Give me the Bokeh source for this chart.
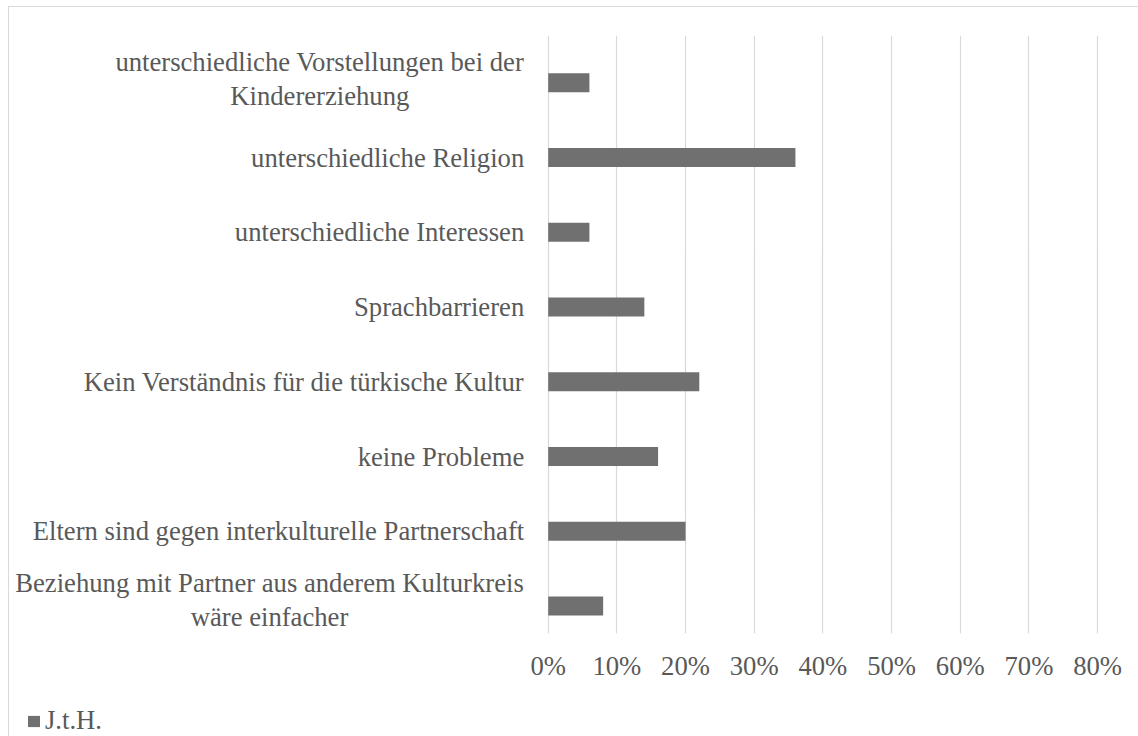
from bokeh.plotting import figure
from bokeh.layouts import column
from bokeh.models import (FactorRange, Range1d, NumeralTickFormatter, Legend,
                          LegendItem, ColumnDataSource, FixedTicker)
from bokeh.transform import dodge
from bokeh.core.properties import value
from bokeh.embed import file_html
from bokeh.resources import INLINE

# ---- data (top to bottom as in the chart) ----
categories = [
    "unterschiedliche Vorstellungen bei der Kindererziehung",
    "unterschiedliche Religion",
    "unterschiedliche Interessen",
    "Sprachbarrieren",
    "Kein Verständnis für die türkische Kultur",
    "keine Probleme",
    "Eltern sind gegen interkulturelle Partnerschaft",
    "Beziehung mit Partner aus anderem Kulturkreis wäre einfacher",
]
category_labels = [
    "unterschiedliche Vorstellungen bei der\nKindererziehung",
    "unterschiedliche Religion",
    "unterschiedliche Interessen",
    "Sprachbarrieren",
    "Kein Verständnis für die türkische Kultur",
    "keine Probleme",
    "Eltern sind gegen interkulturelle Partnerschaft",
    "Beziehung mit Partner aus anderem Kulturkreis\nwäre einfacher",
]
values = [0.06, 0.36, 0.06, 0.14, 0.22, 0.16, 0.20, 0.08]
series_name = "J.t.H."
x_ticks = [0.0, 0.1, 0.2, 0.3, 0.4, 0.5, 0.6, 0.7, 0.8]

FONT = "Liberation Serif"
FSIZE = "26.67px"
TXT = "#595959"
BAR = "#707070"
GRID = "#d9d9d9"

src = ColumnDataSource(dict(cat=categories, val=values, label=category_labels))

p = figure(width=1129, height=678,
           y_range=FactorRange(factors=categories[::-1], range_padding=0),
           x_range=Range1d(-0.7845, 0.8596),
           y_axis_location=None, x_axis_location="below",
           output_backend="svg", toolbar_location=None,
           min_border_left=0, min_border_right=0,
           min_border_top=28, min_border_bottom=52)
p.outline_line_color = None
p.background_fill_color = "white"
p.border_fill_color = "white"

bars = p.hbar(y=dodge("cat", -0.133, range=p.y_range), left=0, right="val",
              height=0.255, source=src, fill_color=BAR, line_color=None)

xa = p.xaxis[0]
xa.ticker = FixedTicker(ticks=x_ticks)
xa.formatter = NumeralTickFormatter(format="0%")
xa.axis_line_color = None
xa.major_tick_line_color = None
xa.minor_tick_line_color = None
xa.major_tick_out = 0
xa.major_tick_in = 0
xa.major_label_text_font = FONT
xa.major_label_text_font_size = FSIZE
xa.major_label_text_color = TXT
xa.major_label_standoff = 17

p.xgrid.grid_line_color = GRID
p.xgrid.grid_line_width = 1.2
p.ygrid.grid_line_color = None

# category labels
single = [i for i, l in enumerate(category_labels) if "\n" not in l]
multi = [i for i, l in enumerate(category_labels) if "\n" in l]
src_single = ColumnDataSource(dict(cat=[categories[i] for i in single],
                                   label=[category_labels[i] for i in single]))
p.text(x=0, y=dodge("cat", -0.133, range=p.y_range), text="label", source=src_single,
       text_align="right", text_baseline="middle", x_offset=-24,
       text_font=value(FONT), text_font_size=FSIZE, text_color=TXT)
multi_offsets = {0: -228.4, 7: -278.7}
multi_dodge = {0: -0.085, 7: -0.05}
for i in multi:
    s = ColumnDataSource(dict(cat=[categories[i]], label=[category_labels[i]]))
    p.text(x=0, y=dodge("cat", multi_dodge[i], range=p.y_range), text="label", source=s,
           text_align="center", text_baseline="middle", x_offset=multi_offsets[i],
           text_line_height=1.15,
           text_font=value(FONT), text_font_size=FSIZE, text_color=TXT)

# legend strip below the chart (swatch proxy lies outside the visible range)
p2 = figure(width=1129, height=51, x_range=Range1d(0, 1), y_range=Range1d(0, 1),
            x_axis_location=None, y_axis_location=None,
            output_backend="svg", toolbar_location=None,
            min_border_left=0, min_border_right=0,
            min_border_top=0, min_border_bottom=0)
p2.outline_line_color = None
p2.xgrid.visible = False
p2.ygrid.visible = False
swatch = p2.hbar(y=[-5], left=[0], right=[0], height=0.1,
                 fill_color=BAR, line_color=None)
legend = Legend(items=[LegendItem(label=series_name, renderers=[swatch])],
                location=(17, 0), orientation="horizontal",
                glyph_width=15, glyph_height=14, label_standoff=4,
                label_text_font=FONT, label_text_font_size=FSIZE,
                label_text_color=TXT, background_fill_alpha=0,
                border_line_color=None, padding=0, margin=0)
p2.add_layout(legend)

layout = column(p, p2, spacing=0)
layout.margin = (6, 0, 0, 8)
layout.styles = {"border-top": "1px solid #d9d9d9", "border-left": "1px solid #d9d9d9"}

open("out.html", "w").write(file_html(layout, INLINE))
